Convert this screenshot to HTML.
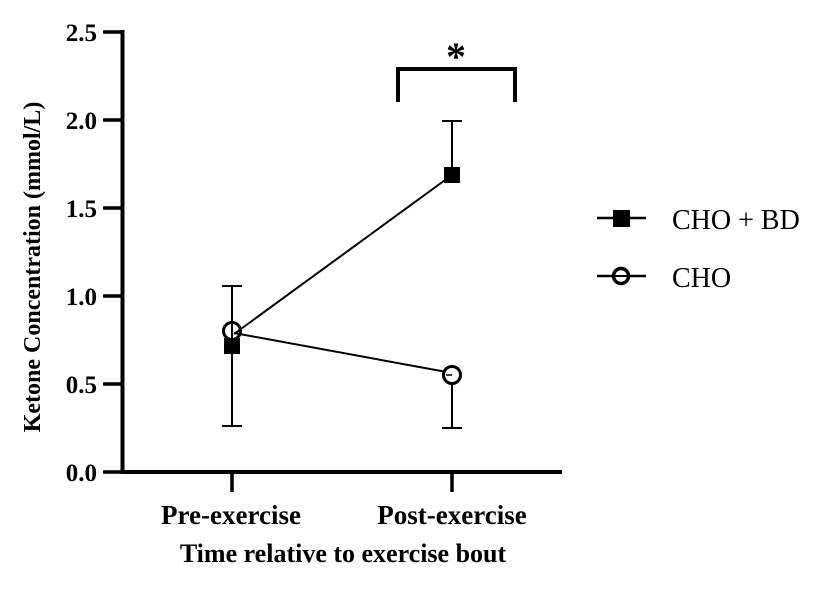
<!DOCTYPE html>
<html><head><meta charset="utf-8"><style>
html,body{margin:0;padding:0;background:#fff;}
svg{display:block;}
</style></head><body>
<svg width="825" height="589" viewBox="0 0 825 589" xmlns="http://www.w3.org/2000/svg">
<g stroke="#000" fill="none">
  <line x1="122.5" y1="30" x2="122.5" y2="474" stroke-width="4"/>
  <line x1="120.5" y1="472" x2="562" y2="472" stroke-width="4"/>
  <g stroke-width="3.5">
    <line x1="103" y1="32" x2="122" y2="32"/>
    <line x1="103" y1="120" x2="122" y2="120"/>
    <line x1="103" y1="208" x2="122" y2="208"/>
    <line x1="103" y1="296" x2="122" y2="296"/>
    <line x1="103" y1="384" x2="122" y2="384"/>
    <line x1="103" y1="472" x2="122" y2="472"/>
    <line x1="232" y1="472" x2="232" y2="492"/>
    <line x1="452" y1="472" x2="452" y2="492"/>
  </g>
  <g stroke-width="2">
    <line x1="232" y1="286" x2="232" y2="426"/>
    <line x1="222" y1="286" x2="242" y2="286"/>
    <line x1="222" y1="426" x2="242" y2="426"/>
    <line x1="452" y1="121" x2="452" y2="175"/>
    <line x1="442" y1="121" x2="462" y2="121"/>
    <line x1="452" y1="375" x2="452" y2="428"/>
    <line x1="442" y1="428" x2="462" y2="428"/>
    <line x1="234" y1="334" x2="452" y2="175"/>
    <line x1="234" y1="333" x2="452" y2="373"/>
  </g>
  <polyline points="398,102 398,69 515,69 515,102" stroke-width="4"/>
</g>
<rect x="224" y="338" width="16" height="16" fill="#000"/>
<circle cx="232" cy="331" r="8.5" fill="none" stroke="#000" stroke-width="3"/>
<rect x="444" y="167" width="16" height="16" fill="#000"/>
<circle cx="452" cy="375" r="8.5" fill="#fff" stroke="#000" stroke-width="3"/>
<line x1="452" y1="375" x2="446" y2="375" stroke="#000" stroke-width="1.5"/>
<text x="456" y="70" font-family="Liberation Serif, serif" font-weight="bold" font-size="40" text-anchor="middle">*</text>
<g font-family="Liberation Serif, serif" font-weight="bold" font-size="25" fill="#000" text-anchor="end">
  <text x="97" y="41">2.5</text>
  <text x="97" y="129">2.0</text>
  <text x="97" y="217">1.5</text>
  <text x="97" y="305">1.0</text>
  <text x="97" y="393">0.5</text>
  <text x="97" y="481">0.0</text>
</g>
<g font-family="Liberation Serif, serif" font-weight="bold" fill="#000" text-anchor="middle">
  <text x="231" y="524" font-size="27">Pre-exercise</text>
  <text x="452" y="524" font-size="27">Post-exercise</text>
  <text x="343" y="562" font-size="26">Time relative to exercise bout</text>
  <text transform="translate(40,267) rotate(-90)" font-size="24">Ketone Concentration (mmol/L)</text>
</g>
<line x1="597" y1="218" x2="646" y2="218" stroke="#000" stroke-width="2.5"/>
<rect x="613" y="210" width="17" height="17" fill="#000"/>
<line x1="597" y1="276" x2="646" y2="276" stroke="#000" stroke-width="2.5"/>
<circle cx="621" cy="276" r="7.5" fill="#fff" stroke="#000" stroke-width="3.5"/>
<line x1="614" y1="276" x2="628" y2="276" stroke="#000" stroke-width="2"/>
<g font-family="Liberation Serif, serif" font-size="28" fill="#000">
  <text x="672" y="229">CHO + BD</text>
  <text x="672" y="287">CHO</text>
</g>
</svg>
</body></html>
